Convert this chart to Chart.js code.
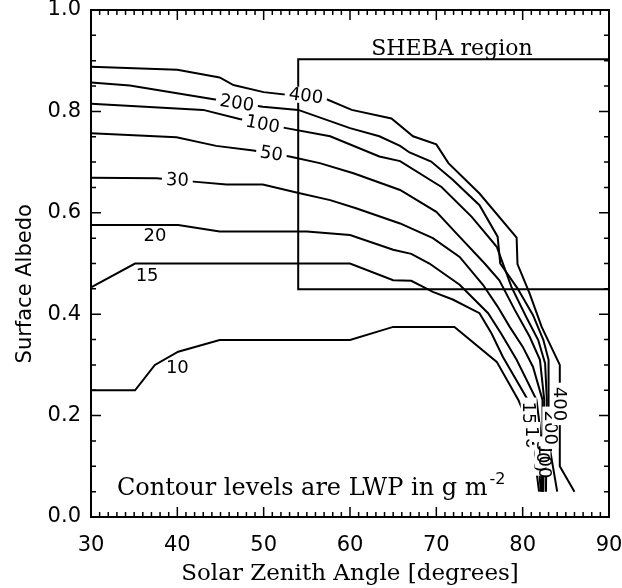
<!DOCTYPE html>
<html lang="en">
<head>
<meta charset="UTF-8">
<title>Surface Albedo vs Solar Zenith Angle</title>
<style>
  html, body { margin: 0; padding: 0; background: #fff; }
  #wrap { position: relative; width: 622px; height: 588px; }
</style>
</head>
<body>
<div id="wrap"><canvas id="albedo-chart"></canvas></div>
<script src="https://cdn.jsdelivr.net/npm/chart.js"></script>
<script>
  // LWP contour levels (g m^-2) and their traced lines: [solar zenith angle, surface albedo]
  const levels = [10, 15, 20, 30, 50, 100, 200, 400];

  const lwp10 = [[30,0.250],[35.1,0.250],[37.4,0.300],[40.1,0.326],[44.9,0.349],[60,0.349],[65,0.375],[72.1,0.375],[77,0.306],[79.5,0.231],[81,0.170],[81.9,0.050]];
  const lwp15 = [[30,0.453],[35.1,0.500],[60,0.500],[65,0.467],[67.1,0.466],[69.6,0.444],[71.9,0.429],[75,0.402],[76.4,0.362],[77.7,0.316],[80.6,0.231],[81.6,0.170],[82.1,0.050]];
  const lwp20 = [[30,0.576],[40.1,0.576],[44.9,0.563],[55,0.563],[60,0.556],[65,0.527],[67.1,0.519],[69.2,0.500],[72.7,0.458],[76,0.402],[77.5,0.362],[79.3,0.310],[81.6,0.231],[82.2,0.150],[82.2,0.050]];
  const lwp30 = [[30,0.669],[37.6,0.668],[42.2,0.661],[45.7,0.656],[49.9,0.656],[53.8,0.640],[57.7,0.625],[60.7,0.609],[65.8,0.579],[69.6,0.550],[72.7,0.513],[75.4,0.458],[77.1,0.415],[78.5,0.375],[80,0.336],[81.2,0.296],[82.3,0.231],[82.3,0.050]];
  const lwp50 = [[30,0.757],[39.9,0.749],[44.5,0.732],[48.8,0.723],[53,0.711],[56.5,0.698],[60.4,0.678],[65.8,0.645],[70,0.602],[72.3,0.560],[75.6,0.500],[77.3,0.467],[79.1,0.408],[80.8,0.356],[82,0.310],[82.5,0.231],[82.4,0.050]];
  const lwp100 = [[30,0.815],[43,0.803],[47.2,0.785],[52.6,0.767],[57.7,0.751],[63.4,0.711],[65.8,0.702],[70.6,0.651],[74.1,0.592],[77,0.533],[78.7,0.454],[80.4,0.395],[81.8,0.349],[82.6,0.303],[82.8,0.231],[82.7,0.050]];
  const lwp200 = [[30,0.857],[34.5,0.851],[44.2,0.824],[49.9,0.809],[54,0.803],[60,0.767],[63.4,0.751],[65.8,0.732],[66.9,0.719],[69.4,0.701],[71.9,0.665],[75,0.615],[77.1,0.553],[77.4,0.500],[79.4,0.451],[81.2,0.398],[82.4,0.349],[83,0.310],[83,0.150],[84,0.050]];
  const lwp400 = [[30,0.888],[40,0.882],[44.9,0.867],[46.5,0.852],[50,0.838],[57.3,0.824],[60.2,0.803],[64.8,0.786],[67.3,0.751],[70,0.735],[71.4,0.698],[75,0.638],[79.3,0.551],[79.4,0.499],[80.8,0.441],[82.2,0.375],[84.3,0.300],[84.3,0.100],[86,0.050]];

  const contours = [lwp10, lwp15, lwp20, lwp30, lwp50, lwp100, lwp200, lwp400];

  // SHEBA observation box corners
  const shebaX = [90, 54, 54, 90];
  const shebaY = [0.449, 0.449, 0.903, 0.903];

  const xTicks = [30, 40, 50, 60, 70, 80, 90];
  const yTicks = [0.0, 0.2, 0.4, 0.6, 0.8, 1.0];

  // where each level number is written (data units), angle in degrees, gap = blank out line behind it
  const levelLabels = [
    { text: '400', x: 54.9, y: 0.831, angle: 7, gap: true },
    { text: '200', x: 46.9, y: 0.817, angle: 9, gap: true },
    { text: '100', x: 49.9, y: 0.775, angle: 11, gap: true },
    { text: '50', x: 50.9, y: 0.717, angle: 9, gap: true },
    { text: '30', x: 40.0, y: 0.665, angle: 2, gap: true },
    { text: '20', x: 37.4, y: 0.555, angle: 0, gap: false },
    { text: '15', x: 36.5, y: 0.476, angle: 0, gap: false },
    { text: '10', x: 40.0, y: 0.295, angle: 0, gap: false },
    { text: '15', x: 80.7, y: 0.205, angle: 90, gap: true },
    { text: '10', x: 81.1, y: 0.157, angle: 90, gap: true },
    { text: '20', x: 81.7, y: 0.128, angle: 90, gap: true },
    { text: '30', x: 82.0, y: 0.112, angle: 90, gap: true },
    { text: '50', x: 82.3, y: 0.128, angle: 90, gap: true },
    { text: '100', x: 82.6, y: 0.110, angle: 90, gap: false },
    { text: '200', x: 83.2, y: 0.176, angle: 90, gap: true },
    { text: '400', x: 84.3, y: 0.223, angle: 90, gap: true }
  ];

  const sansFont = 'DejaVu Sans, sans-serif';
  const serifFont = 'DejaVu Serif, serif';

  // level numbers drawn on top of the contour lines, plus the free text
  const contourLabels = {
    id: 'contourLabels',
    afterDatasetsDraw(chart) {
      const { ctx, scales: { x, y } } = chart;
      ctx.save();
      ctx.font = '18px ' + sansFont;
      ctx.textAlign = 'center';
      ctx.textBaseline = 'middle';
      levelLabels.forEach(l => {
        const px = x.getPixelForValue(l.x);
        const py = y.getPixelForValue(l.y);
        ctx.save();
        ctx.translate(px, py);
        ctx.rotate(l.angle * Math.PI / 180);
        const w = ctx.measureText(l.text).width;
        if (l.gap) {
          ctx.fillStyle = '#fff';
          ctx.fillRect(-w / 2 - 4, -8, w + 8, 16);
        }
        ctx.fillStyle = '#000';
        ctx.fillText(l.text, 0, 1);
        ctx.restore();
      });

      // box caption and the units note
      ctx.textAlign = 'center';
      ctx.textBaseline = 'alphabetic';
      ctx.font = '22px ' + serifFont;
      ctx.fillText('SHEBA region', x.getPixelForValue(71.8), y.getPixelForValue(0.911));

      ctx.textAlign = 'left';
      ctx.font = '24px ' + serifFont;
      const note = 'Contour levels are LWP in g m';
      const nx = x.getPixelForValue(33.0);
      const ny = y.getPixelForValue(0.044);
      ctx.fillText(note, nx, ny);
      const nw = ctx.measureText(note).width;
      ctx.font = '16px ' + sansFont;
      ctx.fillText('-2', nx + nw + 2, ny - 11);

      // y axis title, sitting a little below the middle of the axis
      ctx.save();
      ctx.translate(26, y.getPixelForValue(0.46));
      ctx.rotate(-Math.PI / 2);
      ctx.textAlign = 'center';
      ctx.textBaseline = 'middle';
      ctx.font = '21px ' + sansFont;
      ctx.fillText('Surface Albedo', 0, 0);
      ctx.restore();
      ctx.restore();
    }
  };

  // closed frame with inward major/minor ticks on all four sides
  const frameTicks = {
    id: 'frameTicks',
    afterDraw(chart) {
      const { ctx, chartArea: a, scales: { x, y } } = chart;
      ctx.save();
      ctx.strokeStyle = '#000';
      ctx.lineWidth = 2;
      ctx.strokeRect(a.left, a.top, a.right - a.left, a.bottom - a.top);
      ctx.lineWidth = 1.5;
      ctx.beginPath();
      for (let d = 30; d <= 90; d++) {
        const px = x.getPixelForValue(d);
        const len = d % 10 === 0 ? 10 : 5;
        ctx.moveTo(px, a.bottom); ctx.lineTo(px, a.bottom - len);
        ctx.moveTo(px, a.top); ctx.lineTo(px, a.top + len);
      }
      for (let i = 0; i <= 20; i++) {
        const py = y.getPixelForValue(i * 0.05);
        const len = i % 4 === 0 ? 10 : 5;
        ctx.moveTo(a.left, py); ctx.lineTo(a.left + len, py);
        ctx.moveTo(a.right, py); ctx.lineTo(a.right - len, py);
      }
      ctx.stroke();
      ctx.restore();
    }
  };

  const datasets = contours.map((pts, i) => ({
    label: levels[i] + ' g m-2',
    data: pts.map(p => ({ x: p[0], y: p[1] })),
    showLine: true,
    borderColor: '#000',
    borderWidth: 2,
    pointRadius: 0,
    tension: 0,
    fill: false
  }));
  datasets.push({
    label: 'SHEBA region',
    data: shebaX.map((v, i) => ({ x: v, y: shebaY[i] })),
    showLine: true,
    borderColor: '#000',
    borderWidth: 2,
    pointRadius: 0,
    fill: false
  });

  const ctx = document.getElementById('albedo-chart').getContext('2d');
  new Chart(ctx, {
    type: 'scatter',
    data: { datasets: datasets },
    options: {
      responsive: true,
      maintainAspectRatio: false,
      animation: false,
      devicePixelRatio: 1,
      layout: { padding: { top: 10, right: 13, left: 0, bottom: 0 } },
      plugins: { legend: { display: false }, tooltip: { enabled: false } },
      scales: {
        x: {
          type: 'linear',
          min: 30,
          max: 90,
          afterBuildTicks: s => { s.ticks = xTicks.map(v => ({ value: v })); },
          ticks: { font: { family: sansFont, size: 21 }, color: '#000', padding: 16, maxRotation: 0 },
          grid: { display: false, drawTicks: false },
          border: { display: false },
          title: {
            display: true,
            text: 'Solar Zenith Angle [degrees]',
            font: { family: serifFont, size: 23 },
            color: '#000',
            padding: { top: 0, bottom: 0 }
          },
          afterFit: s => { s.height = 71; s.paddingLeft = 0; s.paddingRight = 0; }
        },
        y: {
          type: 'linear',
          min: 0,
          max: 1,
          afterBuildTicks: s => { s.ticks = yTicks.map(v => ({ value: v })); },
          ticks: {
            font: { family: sansFont, size: 21 },
            color: '#000',
            padding: 10,
            callback: v => Number(v).toFixed(1)
          },
          grid: { display: false, drawTicks: false },
          border: { display: false },
          afterFit: s => { s.width = 91; s.paddingTop = 0; s.paddingBottom = 0; }
        }
      }
    },
    plugins: [contourLabels, frameTicks]
  });
</script>
</body>
</html>
